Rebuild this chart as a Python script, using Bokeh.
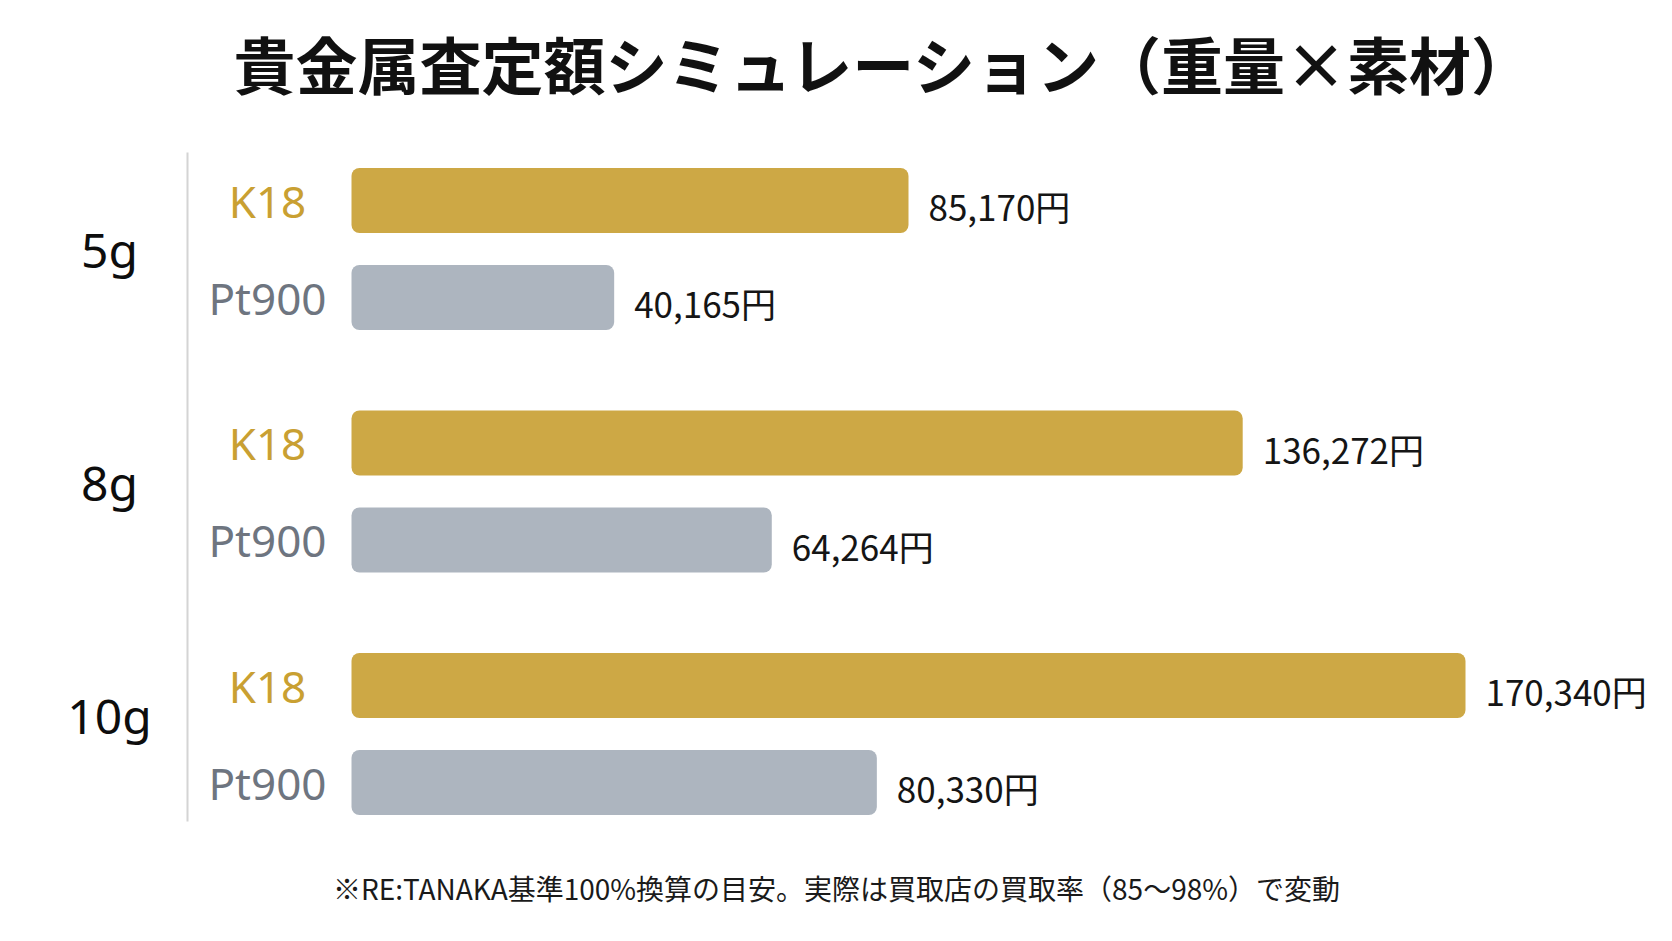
from bokeh.plotting import figure
from bokeh.models import Range1d, ColumnDataSource
from bokeh.core.properties import value
from bokeh.embed import file_html
from bokeh.resources import INLINE

# --- data -------------------------------------------------------------
weights = ["5g", "8g", "10g"]
metals = ["K18", "Pt900"]
k18_yen = [85170, 136272, 170340]
pt900_yen = [40165, 64264, 80330]

title_text = "貴金属査定額シミュレーション（重量×素材）"
note_text = "※RE:TANAKA基準100%換算の目安。実際は買取店の買取率（85～98%）で変動"

# --- layout / style ---------------------------------------------------
W, H = 1672, 941
ROW_PX = 97            # distance between two bars of one group
FIRST_ROW_PX = 200     # centre of the first bar, from the top
BAR_ORIGIN_PX = 351    # where the bars start
MAX_BAR_PX = 1114      # length of the longest bar
GROUP_GAP = 0.5        # extra rows between weight groups
BAR_HEIGHT = 0.67
GROUP_LABEL_LIFT = 0.095  # weight labels sit a little above their group's middle

METAL_BAR = {"K18": "#CDA845", "Pt900": "#ADB5BF"}
METAL_TEXT = {"K18": "#C9A032", "Pt900": "#6E7580"}

all_vals = k18_yen + pt900_yen
yen_per_px = max(all_vals) / MAX_BAR_PX


def px_x(px):
    return (px - BAR_ORIGIN_PX) * yen_per_px


def px_y(px):
    return (px - FIRST_ROW_PX) / ROW_PX


rows = {"y": [], "ly": [], "value": [], "metal": [], "bar": [], "txt": [],
        "label": [], "lx": []}
group_y = []
for gi, w in enumerate(weights):
    base = gi * (2 + GROUP_GAP)
    group_y.append(base + 0.5 - gi * GROUP_LABEL_LIFT)
    for mi, m in enumerate(metals):
        v = (k18_yen if m == "K18" else pt900_yen)[gi]
        rows["y"].append(base + mi)
        rows["ly"].append(base + mi + 5 / ROW_PX)
        rows["value"].append(v)
        rows["metal"].append(m)
        rows["bar"].append(METAL_BAR[m])
        rows["txt"].append(METAL_TEXT[m])
        rows["label"].append(f"{v:,}円")
        rows["lx"].append(v + 20 * yen_per_px)
src = ColumnDataSource(rows)

p = figure(
    width=W, height=H,
    x_range=Range1d(px_x(0), px_x(W)),
    y_range=Range1d(px_y(H), px_y(0)),
    x_axis_type=None, y_axis_type=None,
    output_backend="svg", toolbar_location=None,
    min_border=0, outline_line_color=None,
    background_fill_color="white", border_fill_color="white",
)
p.grid.visible = False

# bars
p.hbar(y="y", left=0, right="value", height=BAR_HEIGHT, fill_color="bar",
       line_color=None, border_radius=8, source=src)

# value labels
p.text(x="lx", y="ly", text="label", source=src, text_color="#151515",
       text_font=value("Noto Sans CJK JP"), text_font_size="35px",
       text_align="left", text_baseline="middle")

# metal labels
p.text(x=px_x(267), y="y", text="metal", source=src, text_color="txt",
       text_font=value("Noto Sans"), text_font_size="44px",
       text_align="center", text_baseline="middle")

# weight group labels
p.text(x=[px_x(109)] * len(weights), y=group_y, text=weights,
       text_color="#0d0d0d", text_font=value("Noto Sans"), text_font_size="48px",
       text_align="center", text_baseline="middle")

# divider between weight column and the bars
p.segment(x0=px_x(187), x1=px_x(187), y0=px_y(152), y1=px_y(821),
          line_color="#D4D4D4", line_width=2)

# title and footnote
p.text(x=[px_x(884)], y=[px_y(62)], text=[title_text], text_color="#111111",
       text_font=value("Noto Sans CJK JP"), text_font_size="62px",
       text_font_style="bold", text_align="center", text_baseline="middle")
p.text(x=[px_x(836)], y=[px_y(887)], text=[note_text], text_color="#1a1a1a",
       text_font=value("Noto Sans CJK JP"), text_font_size="28px",
       text_align="center", text_baseline="middle")

open("out.html", "w").write(file_html(p, INLINE))
